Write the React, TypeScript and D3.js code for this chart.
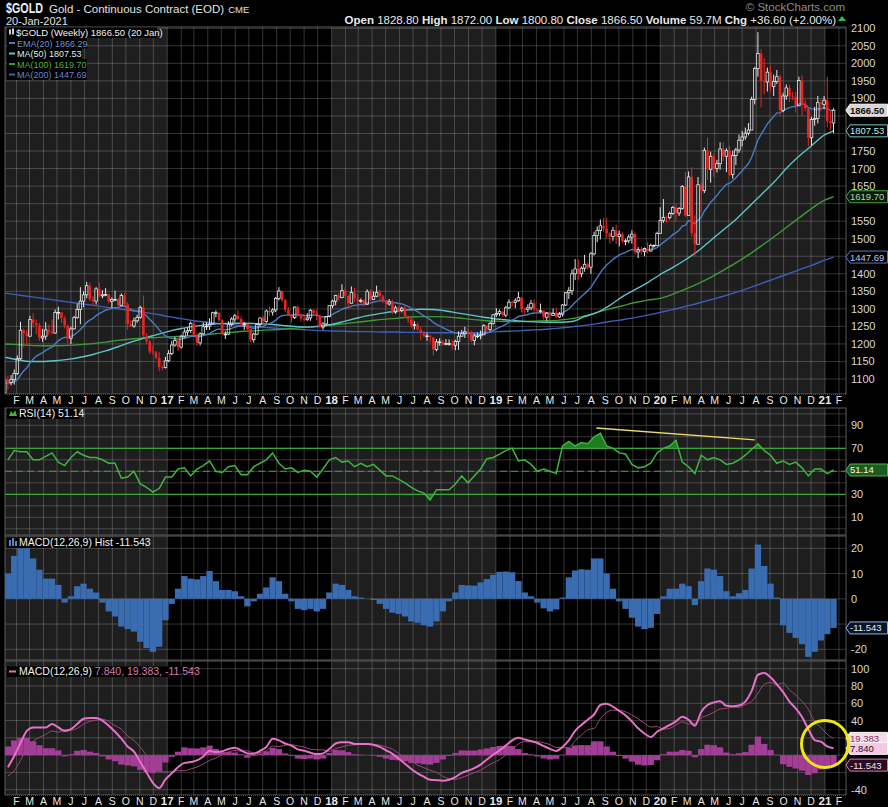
import React, { useEffect } from "react";
import * as d3 from "d3";

// weekly bars of $GOLD, first bar dated in the first week of 2016
const firstWeek = new Date(2016, 0, 6);
const firstOpen = 1061;

const closes = [
  1097, 1090, 1098, 1116, 1158, 1239, 1230, 1222, 1270, 1259, 1254, 1217, 1222, 1240, 1235, 1231, 1290, 1290, 1273, 1252,
  1216, 1243, 1275, 1298, 1322, 1340, 1366, 1327, 1322, 1357, 1337, 1340, 1341, 1321, 1327, 1327, 1310, 1338, 1313, 1257,
  1251, 1266, 1275, 1304, 1224, 1207, 1178, 1176, 1160, 1134, 1133, 1152,
  1173, 1197, 1210, 1191, 1220, 1234, 1238, 1258, 1226, 1203, 1229, 1249, 1251, 1257, 1289, 1289, 1268, 1228, 1228, 1255,
  1271, 1280, 1271, 1256, 1257, 1242, 1212, 1228, 1255, 1274, 1264, 1294, 1291, 1297, 1330, 1351, 1325, 1297, 1284, 1275,
  1305, 1280, 1272, 1269, 1274, 1296, 1288, 1280, 1248, 1257, 1278, 1309,
  1322, 1338, 1332, 1352, 1337, 1316, 1347, 1330, 1323, 1324, 1313, 1349, 1327, 1336, 1347, 1336, 1323, 1314, 1320, 1291,
  1303, 1295, 1302, 1279, 1270, 1254, 1255, 1241, 1231, 1223, 1223, 1219, 1184, 1206, 1206, 1199, 1201, 1201, 1196, 1207,
  1222, 1229, 1235, 1233, 1210, 1223, 1223, 1226, 1252, 1241, 1258, 1283,
  1287, 1292, 1282, 1303, 1319, 1318, 1323, 1332, 1299, 1298, 1303, 1316, 1298, 1295, 1295, 1276, 1288, 1281, 1287, 1277,
  1285, 1311, 1346, 1352, 1400, 1414, 1400, 1416, 1427, 1419, 1457, 1509, 1523, 1537, 1529, 1515, 1506, 1524, 1506, 1513,
  1493, 1494, 1505, 1513, 1462, 1468, 1463, 1472, 1465, 1481, 1481, 1515,
  1552, 1561, 1560, 1572, 1589, 1573, 1586, 1649, 1566, 1676, 1516, 1484, 1654, 1637, 1752, 1698, 1735, 1700, 1714, 1756,
  1735, 1751, 1683, 1737, 1753, 1781, 1790, 1801, 1810, 1897, 1985, 2028, 1949, 1947, 1975, 1934, 1948, 1962, 1866, 1907,
  1930, 1906, 1905, 1879, 1951, 1886, 1872, 1788, 1840, 1843, 1888, 1883,
  1895, 1835, 1830, 1866.5,
];

const highs = [
  1107, 1110, 1111, 1127, 1167, 1263, 1244, 1241, 1280, 1287, 1270, 1260, 1243, 1262, 1255, 1269, 1298, 1306, 1290, 1280,
  1255, 1249, 1280, 1315, 1362, 1350, 1377, 1375, 1336, 1362, 1375, 1353, 1359, 1344, 1333, 1352, 1331, 1344, 1345, 1319,
  1267, 1275, 1283, 1309, 1338, 1231, 1212, 1196, 1180, 1176, 1139, 1163,
  1183, 1209, 1220, 1219, 1226, 1244, 1246, 1264, 1263, 1229, 1233, 1261, 1263, 1273, 1292, 1296, 1290, 1270, 1236, 1265,
  1276, 1285, 1296, 1279, 1262, 1258, 1244, 1232, 1259, 1275, 1280, 1298, 1306, 1302, 1334, 1362, 1349, 1329, 1305, 1286,
  1307, 1310, 1287, 1284, 1288, 1300, 1299, 1298, 1281, 1262, 1280, 1311,
  1326, 1340, 1345, 1370, 1361, 1340, 1364, 1360, 1342, 1330, 1327, 1356, 1356, 1349, 1366, 1354, 1340, 1320, 1328, 1326,
  1309, 1308, 1306, 1312, 1281, 1275, 1265, 1261, 1249, 1236, 1232, 1227, 1220, 1214, 1216, 1212, 1214, 1213, 1211, 1212,
  1236, 1240, 1249, 1245, 1238, 1229, 1232, 1238, 1256, 1253, 1263, 1285,
  1302, 1298, 1295, 1309, 1327, 1323, 1330, 1349, 1334, 1304, 1313, 1325, 1327, 1300, 1315, 1296, 1290, 1293, 1301, 1303,
  1291, 1314, 1348, 1362, 1412, 1442, 1441, 1421, 1454, 1432, 1462, 1520, 1535, 1555, 1560, 1560, 1518, 1534, 1540, 1523,
  1520, 1500, 1512, 1524, 1518, 1476, 1477, 1475, 1490, 1486, 1484, 1520,
  1590, 1613, 1566, 1577, 1593, 1597, 1590, 1653, 1690, 1692, 1704, 1567, 1676, 1660, 1760, 1788, 1748, 1744, 1725, 1775,
  1775, 1758, 1765, 1751, 1759, 1797, 1807, 1817, 1830, 1905, 1990, 2089, 2040, 2015, 1988, 1993, 1968, 1981, 1968, 1916,
  1940, 1938, 1918, 1919, 1962, 1966, 1897, 1875, 1847, 1876, 1907, 1898,
  1907, 1962, 1865, 1872,
];

const lows = [
  1061, 1071, 1082, 1084, 1111, 1155, 1191, 1197, 1220, 1247, 1228, 1208, 1206, 1212, 1225, 1227, 1229, 1270, 1260, 1244,
  1202, 1200, 1241, 1272, 1256, 1305, 1330, 1322, 1310, 1312, 1333, 1330, 1336, 1316, 1303, 1322, 1306, 1309, 1307, 1241,
  1248, 1246, 1260, 1272, 1220, 1200, 1171, 1170, 1156, 1122, 1125, 1130,
  1148, 1168, 1192, 1180, 1187, 1218, 1224, 1232, 1222, 1194, 1196, 1226, 1240, 1240, 1254, 1276, 1262, 1225, 1214, 1225,
  1250, 1263, 1267, 1250, 1240, 1236, 1205, 1204, 1225, 1250, 1258, 1260, 1280, 1281, 1291, 1324, 1319, 1290, 1281, 1261,
  1271, 1278, 1264, 1265, 1266, 1266, 1285, 1268, 1243, 1240, 1252, 1276,
  1302, 1310, 1324, 1330, 1331, 1304, 1315, 1320, 1303, 1317, 1306, 1311, 1322, 1325, 1333, 1324, 1316, 1303, 1309, 1285,
  1286, 1291, 1290, 1274, 1260, 1247, 1241, 1238, 1211, 1218, 1209, 1204, 1167, 1179, 1195, 1194, 1196, 1195, 1183, 1182,
  1183, 1221, 1217, 1218, 1205, 1196, 1216, 1213, 1227, 1237, 1236, 1255,
  1277, 1279, 1277, 1276, 1300, 1306, 1302, 1320, 1290, 1283, 1290, 1296, 1291, 1286, 1289, 1270, 1266, 1268, 1280, 1273,
  1274, 1278, 1308, 1328, 1340, 1382, 1383, 1390, 1406, 1411, 1400, 1452, 1490, 1498, 1520, 1502, 1486, 1494, 1485, 1478,
  1487, 1481, 1487, 1486, 1456, 1445, 1455, 1450, 1458, 1463, 1474, 1479,
  1516, 1545, 1546, 1555, 1568, 1550, 1565, 1583, 1562, 1575, 1505, 1451, 1565, 1575, 1630, 1667, 1660, 1677, 1689, 1697,
  1721, 1690, 1678, 1671, 1710, 1745, 1763, 1782, 1795, 1810, 1883, 1962, 1874, 1912, 1920, 1920, 1907, 1941, 1851, 1861,
  1896, 1890, 1895, 1860, 1878, 1850, 1863, 1764, 1767, 1822, 1829, 1863,
  1869, 1817, 1809, 1800.8,
];

const rsi14 = [
  60, 68, 67, 67, 60, 60, 63, 66, 58, 55, 62, 67, 64, 62, 62, 60, 57, 57, 44, 45,
  50, 39, 36, 32, 35, 45, 45, 52, 53, 46, 52, 55, 59, 50, 49, 54, 55, 47, 47, 54,
  57, 60, 66, 57, 52, 53, 49, 51, 50, 45, 52, 60, 62, 58, 59, 54, 57, 54, 56, 51,
  46, 46, 43, 40, 36, 33, 31, 25, 34, 34, 34, 39, 46, 40, 46, 52, 61, 62, 65, 68,
  70, 59, 60, 56, 50, 52, 50, 48, 72, 76, 72, 75, 74, 80, 83, 72, 70, 66, 65, 56,
  53, 54, 57, 66, 70, 72, 77, 58, 54, 48, 64, 60, 62, 60, 56, 57, 60, 64, 69, 74,
  68, 64, 57, 59, 56, 58, 53, 46, 52, 52, 48, 51.14,
];

const macdLine = [
  -14, -1, 14, 28, 32, 32, 32, 36, 32, 28, 30, 36, 42, 43, 43, 40, 34, 27, 19, 10,
  4, -8, -20, -32, -38, -28, -21, -14, -9, -8, -6, -1.5, 5, 3.5, 4.5, 7, 8.4, 5.5, 2, 1.5,
  5, 9.5, 19, 17, 13.5, 11, 6.6, 5, 2.8, 1.2, 2, 7, 13.5, 15, 15, 13, 13, 13, 12, 9.5,
  5.5, 1.5, -4, -10, -16, -21, -25, -28.5, -29, -29.5, -28.4, -25.5, -20.5, -18, -15, -11, -5, 0.5, 5.5, 11,
  17, 20, 18, 16.3, 14, 10.5, 7.2, 4.8, 9.5, 17, 28, 35, 41, 47, 58, 59.5, 56, 51, 46, 39,
  31, 25, 21, 27, 31, 35, 39, 44.5, 41, 34, 50, 58, 61, 62.4, 57, 56.6, 57.5, 62, 74, 93,
  95, 90, 82, 73, 62, 54, 44, 30, 17.5, 15.5, 10, 7.84,
];

const macdHist = [
  10, 17, 20, 20, 16, 11.5, 8, 8, 5.5, -1.5, 1, 5, 6, 4, 2.5, -1.5, -5, -7, -11, -12,
  -13, -17, -19.5, -21, -19, -8.5, -2, 4, 9, 8, 7.7, 9, 11, 7, 3.5, 3.5, 3, 1, -3, -1,
  2, 4.5, 8.5, 7, 2, -1, -4, -4.5, -4, -5, -4, 2.5, 6, 5.5, 3.5, 1, 0.5, 0, -0.5, -2,
  -4, -5.5, -6, -7, -9, -9.5, -10.5, -11, -9, -5, -1, 2.5, 5.5, 5.3, 5.2, 6.5, 7.8, 9.5, 10.7, 10.8,
  10.5, 7, 2.5, 1, -1.5, -3.8, -5, -4.2, 0.5, 8.5, 11.2, 11.7, 11.5, 16, 16, 10, 4, -1, -4, -7.5,
  -11, -12, -11.5, -6, 1, 4, 4, 6, 5, -2.5, 7, 12, 11.5, 9, 3, 1, 2.2, 3.5, 12, 21.5,
  13, 6, 0.5, -10.5, -13.5, -15.5, -18, -23, -21, -16.5, -14, -11.543,
];

const ma50 = [
  1162, 1155, 1150, 1150, 1152, 1156, 1162, 1170, 1180, 1192, 1205, 1216, 1226, 1236, 1244, 1250, 1255, 1258, 1259, 1259,
  1258, 1256, 1253, 1250, 1248, 1250, 1256, 1265, 1274, 1282, 1288, 1293, 1297, 1299, 1298, 1294, 1288, 1282, 1276, 1271,
  1268, 1265, 1263, 1262, 1262, 1264, 1278, 1290, 1310, 1335, 1355, 1375, 1398, 1418, 1440, 1465, 1495, 1525, 1555, 1590,
  1625, 1660, 1700, 1735, 1765, 1795, 1807.53,
];
const ma100 = [
  1200, 1198, 1196, 1195, 1195, 1196, 1198, 1201, 1205, 1210, 1214, 1217, 1218, 1220, 1222, 1224, 1227, 1230, 1233, 1236,
  1238, 1240, 1242, 1245, 1248, 1251, 1254, 1258, 1262, 1266, 1270, 1273, 1276, 1278, 1278, 1277, 1274, 1270, 1267, 1265,
  1264, 1264, 1265, 1266, 1268, 1272, 1280, 1290, 1300, 1309, 1318, 1325, 1330, 1342, 1356, 1372, 1390, 1410, 1431, 1454,
  1479, 1505, 1532, 1559, 1586, 1609, 1619.7,
];
const ma200 = [
  1345, 1340, 1335, 1330, 1325, 1320, 1315, 1310, 1305, 1300, 1295, 1290, 1285, 1278, 1272, 1266, 1262, 1258, 1255, 1252,
  1249, 1246, 1244, 1242, 1240, 1238, 1237, 1236, 1235, 1235, 1234, 1234, 1233, 1233, 1232, 1232, 1232, 1232, 1233, 1235,
  1236, 1238, 1240, 1242, 1245, 1249, 1253, 1258, 1264, 1269, 1275, 1282, 1290, 1298, 1307, 1316, 1326, 1336, 1347, 1359,
  1372, 1385, 1398, 1411, 1424, 1438, 1447.69,
];
const emaSeed = 1088;

// hand drawn marks on the chart
const rsiTrend = [
  { date: new Date(2019, 7, 12), v: 87.7 },
  { date: new Date(2020, 6, 29), v: 77.3 },
];
const macdMark = { date: new Date(2021, 0, 1), v: 13 };

const priceTicks = d3.range(1100, 2101, 50);
const rsiTicks = [10, 30, 70, 90];
const histTicks = [-20, -10, 0, 10, 20];
const macdTicks = [-40, -20, 0, 20, 40, 60, 80, 100];

const W = 888;
const H = 807;
const L = 5;
const R = 846;
const FONT = "Liberation Sans, Arial, sans-serif";
const GRID = "rgba(255,255,255,0.2)";

const PP = { top: 27, bottom: 394 };
const RP = { top: 408, bottom: 535 };
const HP = { top: 536, bottom: 660 };
const MP = { top: 661, bottom: 795 };

const week = (i: number) => d3.timeDay.offset(firstWeek, 7 * i);
const x = d3.scaleTime().domain([new Date(2016, 0, 1), new Date(2021, 0, 1)]).range([2.5, 825]);
const yP = d3.scaleLinear().domain([1100, 2100]).range([379, 28.3]);
const yR = d3.scaleLinear().domain([10, 90]).range([517.3, 425.3]);
const yH = d3.scaleLinear().domain([-20, 20]).range([649.3, 548.3]);
const yM = d3.scaleLinear().domain([-40, 100]).range([789.7, 668.7]);

const months = d3.timeMonth.range(new Date(2016, 1, 1), new Date(2021, 1, 2));
const years = d3.range(2016, 2022);

function Panel({ id, p, hLines }: { id: string; p: { top: number; bottom: number }; hLines: number[] }) {
  return (
    <g>
      <clipPath id={id}>
        <rect x={L} y={p.top} width={R - L} height={p.bottom - p.top} />
      </clipPath>
      <rect x={L} y={p.top} width={R - L} height={p.bottom - p.top} fill="#000" />
      {years.map((yr) => {
        const a = Math.max(L, x(new Date(yr, 0, 1)));
        const b = Math.min(R, x(new Date(yr + 1, 0, 1)));
        return yr % 2 === 0 ? (
          <rect key={yr} x={a} y={p.top} width={Math.max(0, b - a)} height={p.bottom - p.top} fill="#1e1e1e" />
        ) : null;
      })}
      {months.map((m) => (
        <line key={+m} x1={x(m)} x2={x(m)} y1={p.top} y2={p.bottom} stroke={GRID} strokeWidth={1} />
      ))}
      {hLines
        .filter((y) => y > p.top && y < p.bottom)
        .map((y, i) => (
          <line key={i} x1={L} x2={R} y1={y} y2={y} stroke={GRID} strokeWidth={1} />
        ))}
    </g>
  );
}

function Frame({ p }: { p: { top: number; bottom: number } }) {
  return <rect x={L} y={p.top} width={R - L} height={p.bottom - p.top} fill="none" stroke="#5c5c5c" strokeWidth={1} />;
}

function Tag({ y, text, fill, stroke, color, bold }: { y: number; text: string; fill: string; stroke: string; color: string; bold?: boolean }) {
  return (
    <g>
      <path d={`M${R},${y} L${R + 4},${y - 6} L887.5,${y - 6} L887.5,${y + 6} L${R + 4},${y + 6} Z`} fill={fill} stroke={stroke} strokeWidth={1} />
      <text x={R + 4} y={y + 3.5} fontSize={9.5} fontWeight={bold ? "bold" : "normal"} fill={color} fontFamily={FONT}>
        {text}
      </text>
    </g>
  );
}

// axis numbers, left out where a value tag sits on top of them
function Ticks({ ticks, y, tags }: { ticks: number[]; y: (v: number) => number; tags: number[] }) {
  return (
    <g>
      {ticks
        .filter((v) => tags.every((t) => Math.abs(y(v) - t) > 8.5))
        .map((v) => (
          <text key={v} x={851} y={y(v) + 4} fontSize={11} fill="#d8d8d8" fontFamily={FONT}>
            {v}
          </text>
        ))}
    </g>
  );
}

function AxisStrip({ y0 }: { y0: number }) {
  return (
    <g>
      <rect x={L} y={y0} width={R - L} height={12} fill="#000" />
      <line x1={L} x2={R} y1={y0 + 0.5} y2={y0 + 0.5} stroke="#444" strokeDasharray="1,1" />
      {months.map((m) => {
        const jan = m.getMonth() === 0;
        const label = jan ? String(m.getFullYear()).slice(2) : "JFMAMJJASOND"[m.getMonth()];
        return (
          <text
            key={+m}
            x={x(m)}
            y={y0 + 9.5}
            textAnchor="middle"
            fontSize={jan ? 11.5 : 10.5}
            fontWeight={jan ? "bold" : "normal"}
            fill="#e8e8e8"
            fontFamily={FONT}
          >
            {label}
          </text>
        );
      })}
    </g>
  );
}

function LegendRow({ y, w, children }: { y: number; w: number; children: React.ReactNode }) {
  return (
    <g>
      <rect x={L + 2} y={y - 8.5} width={w} height={10.5} fill="#000" />
      {children}
    </g>
  );
}

export default function App() {
  useEffect(() => {
    document.body.style.margin = "0";
    document.body.style.background = "#000";
  }, []);

  const ema20: number[] = [];
  closes.forEach((c, i) => {
    ema20.push(i === 0 ? emaSeed : ema20[i - 1] + ((c - ema20[i - 1]) * 2) / 21);
  });

  const maIdx = d3.range(0, 261, 4).concat([263]);
  const maLine = (vals: number[]) =>
    d3
      .line<number>()
      .x((_, k) => x(week(maIdx[k])))
      .y((v) => yP(v))
      .curve(d3.curveMonotoneX)(vals) || "";
  const emaPath =
    d3
      .line<number>()
      .x((_, i) => x(week(i)))
      .y((v) => yP(v))(ema20) || "";

  const sx = (k: number) => x(week(2 * k + 1));
  const bw = x(week(2)) - x(week(0));

  const rsiPath = d3.line<number>().x((_, k) => sx(k)).y((v) => yR(v))(rsi14) || "";
  const rsiHi = d3.area<number>().x((_, k) => sx(k)).y0(yR(70)).y1((v) => yR(v))(rsi14) || "";
  const rsiLo = d3.area<number>().x((_, k) => sx(k)).y0(yR(30)).y1((v) => yR(v))(rsi14) || "";

  const signal = macdLine.map((m, k) => m - macdHist[k]);
  const macdPath = d3.line<number>().x((_, k) => sx(k)).y((v) => yM(v)).curve(d3.curveMonotoneX)(macdLine) || "";
  const signalPath = d3.line<number>().x((_, k) => sx(k)).y((v) => yM(v)).curve(d3.curveMonotoneX)(signal) || "";

  const lastClose = closes[closes.length - 1];
  const last = (a: number[]) => a[a.length - 1];

  const priceTags = [yP(last(ma200)), yP(last(ma100)), yP(last(ma50)), yP(lastClose)];
  const rsiTags = [yR(last(rsi14))];
  const histTags = [yH(last(macdHist))];
  const macdTags = [yM(last(signal)), yM(last(macdLine)), yM(last(macdHist))];

  const legendFs = 9;

  return (
    <svg width={W} height={H} style={{ display: "block", background: "#000" }} fontFamily={FONT}>
      <rect width={W} height={H} fill="#000" />

      {/* header */}
      <text x={6} y={13} fontSize={14} fontWeight="bold" fill="#f0f0f0" textLength={37} lengthAdjust="spacingAndGlyphs">
        $GOLD
      </text>
      <text x={49} y={13} fontSize={11.5} fill="#e0e0e0">
        Gold - Continuous Contract (EOD)
        <tspan fontSize={9.5} dx={4}>
          CME
        </tspan>
      </text>
      <text x={6} y={24.5} fontSize={11} fill="#e0e0e0">
        20-Jan-2021
      </text>
      <text x={845} y={11} textAnchor="end" fontSize={11.5} fill="#8c8c8c">
        © StockCharts.com
      </text>
      <text x={836} y={23.5} textAnchor="end" fontSize={11.5} fill="#e8e8e8">
        <tspan fontWeight="bold">Open</tspan> 1828.80 <tspan fontWeight="bold">High</tspan> 1872.00{" "}
        <tspan fontWeight="bold">Low</tspan> 1800.80 <tspan fontWeight="bold">Close</tspan> 1866.50{" "}
        <tspan fontWeight="bold">Volume</tspan> 59.7M <tspan fontWeight="bold">Chg</tspan> +36.60 (+2.00%)
      </text>
      <path d="M838,21 L842,16 L846,21 Z" fill="#2fbf3f" />

      {/* price panel */}
      <Panel id="cp" p={PP} hLines={d3.range(1050, 2101, 50).map((v) => yP(v))} />
      <g clipPath="url(#cp)">
        <path d={maLine(ma200)} fill="none" stroke="#3d5fb8" strokeWidth={1.4} />
        <path d={maLine(ma100)} fill="none" stroke="#3c9a35" strokeWidth={1.4} />
        <path d={maLine(ma50)} fill="none" stroke="#5ec4c6" strokeWidth={1.4} />
        <path d={emaPath} fill="none" stroke="#4a7cc4" strokeWidth={1.4} />
        {closes.map((c, i) => {
          const o = i === 0 ? firstOpen : closes[i - 1];
          const hi = Math.max(highs[i], o, c);
          const lo = Math.min(lows[i], o, c);
          const cx = x(week(i));
          const up = c >= o;
          const col = up ? "#e6e6e6" : "#ec2420";
          const yt = yP(Math.max(o, c));
          const yb = yP(Math.min(o, c));
          return (
            <g key={i}>
              <line x1={cx} x2={cx} y1={yP(hi)} y2={yt} stroke={col} strokeWidth={1} />
              <line x1={cx} x2={cx} y1={yb} y2={yP(lo)} stroke={col} strokeWidth={1} />
              <rect
                x={cx - 1.3}
                y={yt}
                width={2.6}
                height={Math.max(0.8, yb - yt)}
                fill={up ? "none" : col}
                stroke={up ? col : "none"}
                strokeWidth={0.8}
              />
            </g>
          );
        })}
      </g>
      <Frame p={PP} />
      <LegendRow y={36} w={150}>
        <rect x={9} y={29.5} width={2} height={5} fill="#ccc" />
        <rect x={12} y={28.5} width={2} height={6} fill="#ccc" />
        <text x={16} y={36} fontSize={legendFs + 0.5} fill="#f0f0f0">
          $GOLD (Weekly) 1866.50 (20 Jan)
        </text>
      </LegendRow>
      <LegendRow y={46.5} w={80}>
        <line x1={9} x2={15} y1={43} y2={43} stroke="#4a7cc4" strokeWidth={2} />
        <text x={17} y={46.5} fontSize={legendFs} fill="#6f92d8">
          EMA(20) 1866.29
        </text>
      </LegendRow>
      <LegendRow y={57} w={75}>
        <line x1={9} x2={15} y1={53.5} y2={53.5} stroke="#5ec4c6" strokeWidth={2} />
        <text x={17} y={57} fontSize={legendFs} fill="#d8f2f2">
          MA(50) 1807.53
        </text>
      </LegendRow>
      <LegendRow y={67.5} w={80}>
        <line x1={9} x2={15} y1={64} y2={64} stroke="#3c9a35" strokeWidth={2} />
        <text x={17} y={67.5} fontSize={legendFs} fill="#55b14d">
          MA(100) 1619.70
        </text>
      </LegendRow>
      <LegendRow y={78} w={80}>
        <line x1={9} x2={15} y1={74.5} y2={74.5} stroke="#3d5fb8" strokeWidth={2} />
        <text x={17} y={78} fontSize={legendFs} fill="#6a86d0">
          MA(200) 1447.69
        </text>
      </LegendRow>
      <Ticks ticks={priceTicks} y={yP} tags={priceTags} />
      <Tag y={priceTags[0]} text="1447.69" fill="#000" stroke="#5a78c8" color="#b8c6ee" />
      <Tag y={priceTags[1]} text="1619.70" fill="#0b1a0b" stroke="#4aa744" color="#a6dca0" />
      <Tag y={priceTags[2]} text="1807.53" fill="#000" stroke="#6ccfd0" color="#bfeeee" />
      <Tag y={priceTags[3]} text="1866.50" fill="#d6d6d6" stroke="#ffffff" color="#111" bold />

      <AxisStrip y0={PP.bottom} />

      {/* RSI panel */}
      <Panel id="cr" p={RP} hLines={d3.range(0, 101, 10).map((v) => yR(v))} />
      <g clipPath="url(#cr)">
        <clipPath id="crHi">
          <rect x={L} y={RP.top} width={R - L} height={yR(70) - RP.top} />
        </clipPath>
        <clipPath id="crLo">
          <rect x={L} y={yR(30)} width={R - L} height={RP.bottom - yR(30)} />
        </clipPath>
        <path d={rsiHi} fill="#1f7d1f" clipPath="url(#crHi)" />
        <path d={rsiLo} fill="#1f7d1f" clipPath="url(#crLo)" />
        <line x1={L} x2={R} y1={yR(70)} y2={yR(70)} stroke="#3aa33a" strokeWidth={1.2} />
        <line x1={L} x2={R} y1={yR(30)} y2={yR(30)} stroke="#3aa33a" strokeWidth={1.2} />
        <line x1={L} x2={R} y1={yR(50)} y2={yR(50)} stroke="#3aa33a" strokeWidth={1} strokeDasharray="7,4" />
        <path d={rsiPath} fill="none" stroke="#3fb43f" strokeWidth={1.5} />
        <line
          x1={x(rsiTrend[0].date)}
          x2={x(rsiTrend[1].date)}
          y1={yR(rsiTrend[0].v)}
          y2={yR(rsiTrend[1].v)}
          stroke="#e8dc6a"
          strokeWidth={1.4}
        />
      </g>
      <Frame p={RP} />
      <LegendRow y={417} w={72}>
        <path d="M9,416 L11,411 L13,414 L15,410 L17,416 Z" fill="#3fb43f" />
        <text x={19} y={417} fontSize={10.5} fill="#f0f0f0">
          RSI(14) 51.14
        </text>
      </LegendRow>
      <Ticks ticks={rsiTicks} y={yR} tags={rsiTags} />
      <Tag y={rsiTags[0]} text="51.14" fill="#1d5a1d" stroke="#4cb84c" color="#f4f4f4" />

      {/* MACD histogram panel */}
      <Panel id="ch" p={HP} hLines={histTicks.map((v) => yH(v))} />
      <g clipPath="url(#ch)">
        {macdHist.map((v, k) => (
          <rect
            key={k}
            x={sx(k) - bw / 2}
            y={Math.min(yH(0), yH(v))}
            width={bw}
            height={Math.abs(yH(v) - yH(0))}
            fill="#3a6cb2"
          />
        ))}
      </g>
      <Frame p={HP} />
      <LegendRow y={546} w={138}>
        <rect x={9} y={540} width={2} height={6} fill="#4d86d4" />
        <rect x={12} y={538} width={2} height={8} fill="#4d86d4" />
        <rect x={15} y={541} width={2} height={5} fill="#4d86d4" />
        <text x={19} y={546} fontSize={10.5} fill="#f0f0f0">
          MACD(12,26,9) Hist -11.543
        </text>
      </LegendRow>
      <Ticks ticks={histTicks} y={yH} tags={histTags} />
      <Tag y={histTags[0]} text="-11.543" fill="#0a1526" stroke="#8fb2e6" color="#e2ecff" />

      {/* MACD panel */}
      <Panel id="cm" p={MP} hLines={macdTicks.map((v) => yM(v))} />
      <g clipPath="url(#cm)">
        {macdHist.map((v, k) => (
          <rect
            key={k}
            x={sx(k) - bw / 2}
            y={Math.min(yM(0), yM(v))}
            width={bw}
            height={Math.abs(yM(v) - yM(0))}
            fill="#a23e95"
          />
        ))}
        <path d={signalPath} fill="none" stroke="#9c4a74" strokeWidth={1} />
        <path d={macdPath} fill="none" stroke="#e671c6" strokeWidth={2} />
      </g>
      <Frame p={MP} />
      <LegendRow y={675} w={180}>
        <line x1={9} x2={16} y1={671.5} y2={671.5} stroke="#e671c6" strokeWidth={2} />
        <text x={19} y={675} fontSize={10.5} fill="#f0f0f0">
          MACD(12,26,9)
          <tspan fill="#d77ab5"> 7.840, 19.383, -11.543</tspan>
        </text>
      </LegendRow>
      <Ticks ticks={macdTicks} y={yM} tags={macdTags} />
      <Tag y={macdTags[0]} text="19.383" fill="#f3dbe8" stroke="#ffffff" color="#8a2c62" />
      <Tag y={macdTags[1]} text="7.840" fill="#f6c8e4" stroke="#ffffff" color="#2a0a1c" />
      <Tag y={macdTags[2]} text="-11.543" fill="#2a0c22" stroke="#d77ab5" color="#f4e0ee" />
      <circle cx={x(macdMark.date)} cy={yM(macdMark.v)} r={23.5} fill="none" stroke="#f2e612" strokeWidth={3} />

      <AxisStrip y0={MP.bottom} />
    </svg>
  );
}
